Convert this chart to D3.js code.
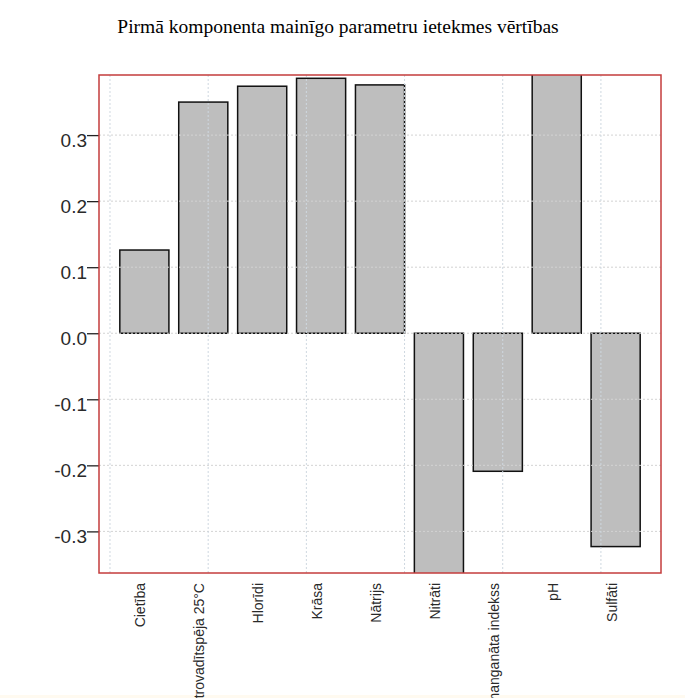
<!DOCTYPE html>
<html>
<head>
<meta charset="utf-8">
<script src="https://cdn.jsdelivr.net/npm/d3@7"></script>
<style>
  body { margin: 0; background: #fff; }
  svg { display: block; }
</style>
</head>
<body>
<svg width="685" height="698"></svg>
<script>
var categories = ['Cietība', 'Elektrovadītspēja 25°C', 'Hlorīdi', 'Krāsa', 'Nātrijs',
                  'Nitrāti', 'Permanganāta indekss', 'pH', 'Sulfāti'];
var values = [0.126, 0.350, 0.374, 0.386, 0.376, -0.40, -0.209, 0.40, -0.323];
var yTicks = [-0.3, -0.2, -0.1, 0.0, 0.1, 0.2, 0.3];
var xGrid = [0, 2, 4, 6, 8, 10];

var svg = d3.select('svg');
var pLeft = 99, pRight = 661, pTop = 75, pBottom = 573;

// R barplot layout: width 1, space 0.2
var x = d3.scaleLinear().domain([-0.224, 11.224]).range([pLeft, pRight]);
var y = d3.scaleLinear().domain([-0.363, 0.391]).range([pBottom, pTop]);

svg.append('rect').attr('x', 0).attr('y', 695).attr('width', 685).attr('height', 3)
   .attr('fill', '#fffaf0');

svg.append('text')
   .attr('x', 338).attr('y', 33)
   .attr('text-anchor', 'middle')
   .style('font-family', '"Liberation Serif", "Times New Roman", serif')
   .style('font-size', '19.5px')
   .text('Pirmā komponenta mainīgo parametru ietekmes vērtības');

svg.append('clipPath').attr('id', 'plotclip')
   .append('rect').attr('x', pLeft).attr('y', pTop)
   .attr('width', pRight - pLeft).attr('height', pBottom - pTop);

var plot = svg.append('g').attr('clip-path', 'url(#plotclip)');

plot.selectAll('rect.bar')
    .data(values)
    .enter()
    .append('rect')
    .attr('class', 'bar')
    .attr('x', function(d, i) { return x(0.2 + i * 1.2); })
    .attr('width', function(d, i) { return x(1.2 + i * 1.2) - x(0.2 + i * 1.2); })
    .attr('y', function(d) { return y(Math.max(0, d)); })
    .attr('height', function(d) { return Math.abs(y(d) - y(0)); })
    .attr('fill', '#bebebe')
    .attr('stroke', '#111')
    .attr('stroke-width', 1.5);

// grid drawn over the bars, like grid() after barplot
plot.selectAll('line.hgrid')
    .data(yTicks)
    .enter()
    .append('line')
    .attr('x1', pLeft).attr('x2', pRight)
    .attr('y1', function(d) { return y(d); })
    .attr('y2', function(d) { return y(d); })
    .attr('stroke', '#d3d3d3')
    .attr('stroke-width', 1)
    .attr('stroke-dasharray', '2,2');

plot.selectAll('line.vgrid')
    .data(xGrid)
    .enter()
    .append('line')
    .attr('x1', function(d) { return x(d); })
    .attr('x2', function(d) { return x(d); })
    .attr('y1', pTop).attr('y2', pBottom)
    .attr('stroke', '#cfd8e0')
    .attr('stroke-width', 1)
    .attr('stroke-dasharray', '2,2');

// y axis
var yAxis = d3.axisLeft(y).tickValues(yTicks).tickSize(12).tickPadding(0)
    .tickFormat(function(d) { return d3.format('.1f')(d).replace('−', '-'); });
var ga = svg.append('g').attr('transform', 'translate(' + pLeft + ',0)').call(yAxis);
ga.select('.domain').remove();
ga.selectAll('text')
  .attr('dy', '0.6em')
  .style('font-family', '"Liberation Sans", Arial, sans-serif')
  .style('font-size', '19px')
  .attr('fill', '#2a2a2a');
ga.selectAll('line').attr('stroke', '#222').attr('stroke-width', 1.3);

// plot box
svg.append('rect')
   .attr('x', pLeft).attr('y', pTop)
   .attr('width', pRight - pLeft).attr('height', pBottom - pTop)
   .attr('fill', 'none')
   .attr('stroke', '#c43c3c')
   .attr('stroke-width', 1.5);

// category labels, rotated
svg.selectAll('text.cat')
   .data(categories)
   .enter()
   .append('text')
   .attr('class', 'cat')
   .attr('transform', function(d, i) {
     return 'translate(' + (x(0.7 + i * 1.2) + 1) + ',583) rotate(-90)';
   })
   .attr('text-anchor', 'end')
   .style('font-family', '"Liberation Sans", Arial, sans-serif')
   .style('font-size', '14px')
   .attr('fill', '#2a2a2a')
   .text(function(d) { return d; });
</script>
</body>
</html>
